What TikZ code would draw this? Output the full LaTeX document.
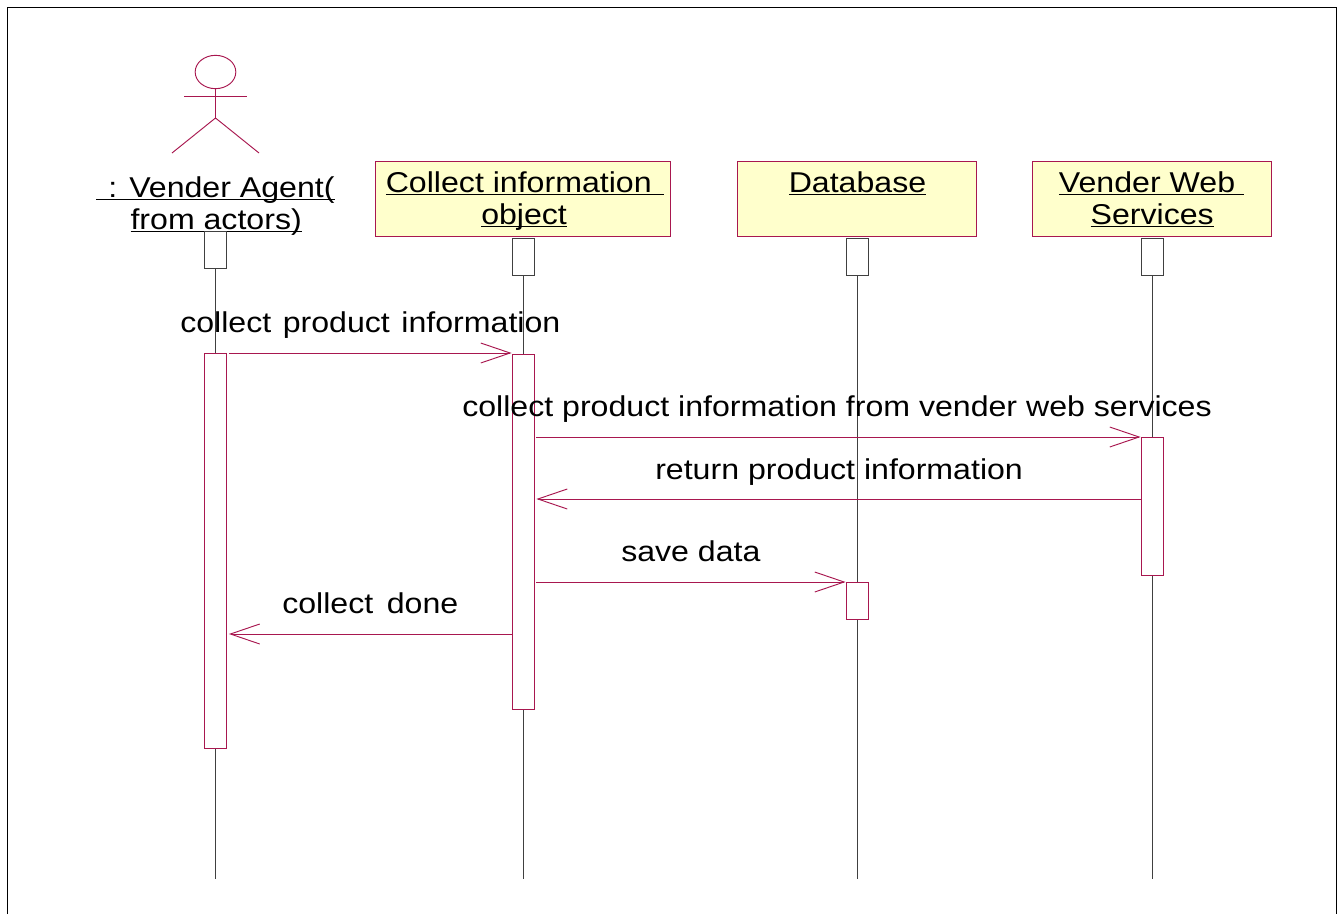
\documentclass[tikz,border=0pt]{standalone}
\usepackage{fontspec}
\setmainfont[FakeStretch=1.12]{Liberation Sans}
\usetikzlibrary{arrows.meta,backgrounds,shapes.geometric}
\definecolor{rose}{HTML}{A8174F}
\definecolor{lifeg}{HTML}{404040}
\definecolor{objfill}{HTML}{FFFFCC}
\newsavebox{\ulbox}
\newcommand{\ulin}[1]{\sbox{\ulbox}{#1}\rlap{\rule[-1.6pt]{\wd\ulbox}{0.7pt}}\usebox{\ulbox}}
\newcommand{\dn}[2]{\raisebox{-#1}[\height][\depth]{#2}}
\tikzset{
  x=0.75pt,y=-0.75pt,
  txt/.style={inner sep=0pt,font=\fontsize{21.5pt}{24pt}\selectfont},
  lbl/.style={txt,anchor=base west},
  objbox/.style={txt,draw=rose,fill=objfill,line width=0.7pt,align=center,minimum height=56.25pt},
  headbox/.style={draw=lifeg,fill=white,line width=0.7pt,inner sep=0pt,minimum width=16.5pt,minimum height=27.5pt,anchor=north},
  actbox/.style={draw=rose,fill=white,line width=0.7pt,inner sep=0pt,minimum width=16.5pt,anchor=north},
  life/.style={draw=lifeg,line width=0.7pt},
  msg/.style={draw=rose,line width=0.7pt,-{Straight Barb[length=22pt,width=15pt,line width=0.7pt]}},
  stick/.style={draw=rose,line width=0.7pt},
}
\begin{document}
\begin{tikzpicture}
\useasboundingbox (0,0) rectangle (1338,914);
\begin{scope}[on background layer]
\fill[white] (0,0) rectangle (1338,914);
\end{scope}
% frame
\draw[black,line width=1.1pt] (7.5,914) -- (7.5,7.5) -- (1336.5,7.5) -- (1336.5,914);
% actor
\node[draw=rose,ellipse,line width=0.7pt,minimum width=30.5pt,minimum height=25pt,inner sep=0pt] (head) at (215.5,72) {};
\coordinate (armL) at (184,96.5);
\coordinate (armR) at (247,96.5);
\coordinate (hip) at (215.5,118);
\coordinate (legL) at (172,153);
\coordinate (legR) at (259,153);
\draw[stick] (armL) -- (armR);
\draw[stick] (head.south) -- (hip);
\draw[stick] (legL) -- (hip) -- (legR);
% objects
\node[objbox,minimum width=220.9pt] (oC) at (522.75,198.5) {\hspace*{3pt}\dn{2.25pt}{\ulin{Collect information\hspace{9pt}}}\\\hspace*{2pt}\dn{2.25pt}{\ulin{object}}};
\node[objbox,minimum width=179.25pt] (oD) at (856.5,198.5) {\hspace*{1.5pt}\ulin{Database}\\\mbox{}};
\node[objbox,minimum width=179.25pt] (oV) at (1151.5,198.5) {\dn{0.75pt}{\ulin{Vender Web\ }}\\\hspace*{1pt}\dn{0.75pt}{\ulin{Services}}};
\node[txt,align=center] (oA) at (215.5,206.5) {\ulin{\hspace{9pt}: Vender Agent(}\\\hspace*{1pt}\ulin{from actors)}};
% head boxes
\node[headbox] (hA) at (215.5,231) {};
\node[headbox] (hC) at (523,238) {};
\node[headbox] (hD) at (857,238) {};
\node[headbox] (hV) at (1152,238) {};
% activations
\node[actbox,minimum height=296.25pt] (aA) at (215.5,353) {};
\node[actbox,minimum height=266.25pt] (aC) at (523,354) {};
\node[actbox,minimum height=27.75pt] (aD) at (857,582) {};
\node[actbox,minimum height=103.5pt] (aV) at (1152,437) {};
% lifelines
\coordinate (eA) at (215.5,879);
\coordinate (eC) at (523,879);
\coordinate (eD) at (857,879);
\coordinate (eV) at (1152,879);
\begin{scope}[on background layer]
\draw[life] (hA.south) -- (eA);
\draw[life] (hC.south) -- (eC);
\draw[life] (hD.south) -- (eD);
\draw[life] (hV.south) -- (eV);
\end{scope}
% messages
\draw[msg,shorten <=1.5pt] (aA.east |- 0,353) -- (aC.west |- 0,353);
\draw[msg,shorten <=1.5pt] (aC.east |- 0,437) -- (aV.west |- 0,437);
\draw[msg,shorten >=1.5pt] (aV.west |- 0,499) -- (aC.east |- 0,499);
\draw[msg,shorten <=1.5pt] (aC.east |- 0,582) -- (aD.west |- 0,582);
\draw[msg,shorten >=1.5pt] (aC.west |- 0,634) -- (aA.east |- 0,634);
% labels
\node[lbl] (l1) at (180,332.5) {collect\hspace{2pt} product\hspace{2pt} information};
\node[lbl] (l2) at (462,416.5) {collect product information from vender web services};
\node[lbl] (l3) at (655,479.5) {return product information};
\node[lbl] (l4) at (621,561.5) {save data};
\node[lbl] (l5) at (282,613.5) {collect\hspace{3.5pt} done};
\end{tikzpicture}
\end{document}
